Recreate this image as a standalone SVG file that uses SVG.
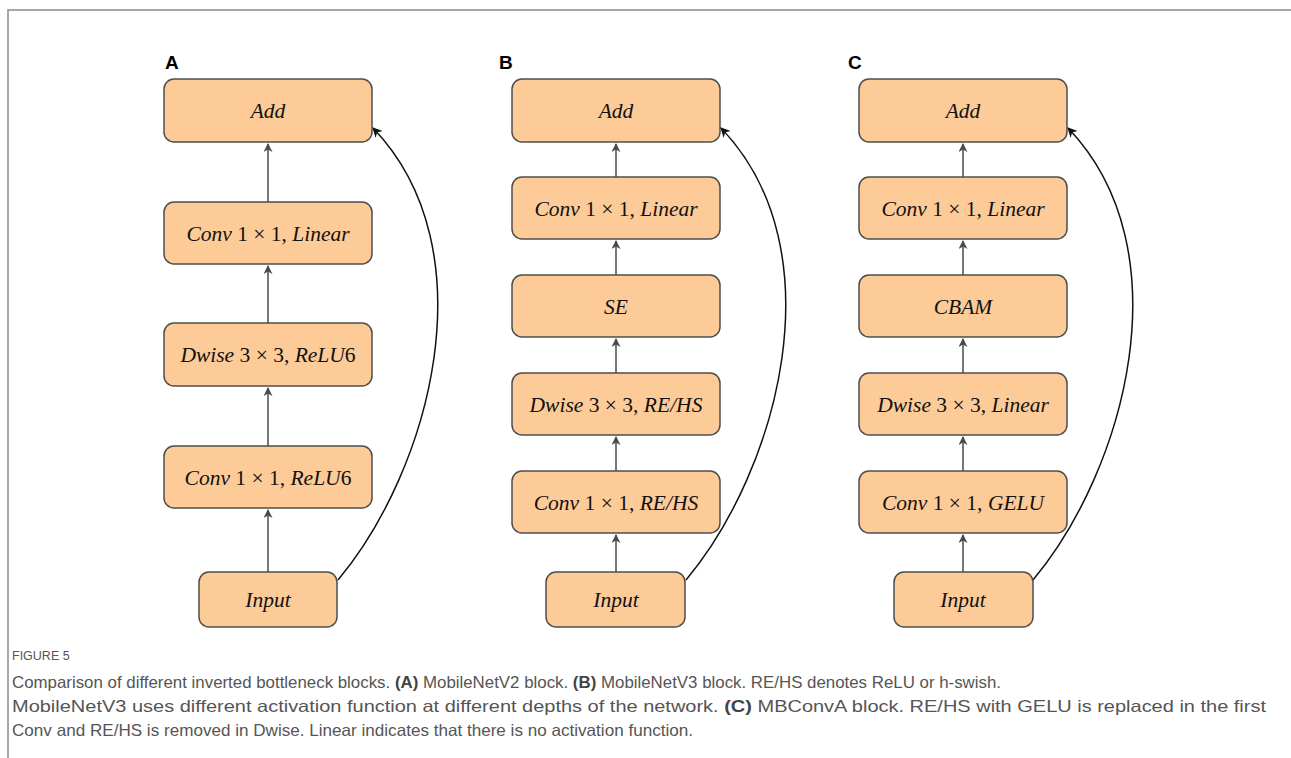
<svg xmlns="http://www.w3.org/2000/svg" width="1291" height="758" viewBox="0 0 1291 758">
<style>
.box{fill:#FDCB98;stroke:#4d4d4d;stroke-width:1.5}
.lbl{font-family:"Liberation Serif",serif;font-style:italic;font-size:21.5px;fill:#111;text-anchor:middle}
.up{font-style:normal}
.pl{font-family:"Liberation Sans",Arial,sans-serif;font-weight:bold;font-size:19px;fill:#000}
.ar{stroke:#4a4a4a;stroke-width:1.5;fill:none;marker-end:url(#ah)}
.sk{stroke:#111;stroke-width:1.5;fill:none;marker-end:url(#ah2)}
.cap{font-family:"Liberation Sans",Arial,sans-serif;font-size:16.5px;fill:#555}
.capb{font-weight:bold;fill:#444}
</style>
<defs>
<marker id="ah" viewBox="0 0 10 10" refX="9" refY="5" markerWidth="9" markerHeight="9" markerUnits="userSpaceOnUse" orient="auto"><path d="M0,0 L10,5 L0,10 L3,5 Z" fill="#4a4a4a"/></marker>
<marker id="ah2" viewBox="0 0 10 10" refX="9" refY="5" markerWidth="10" markerHeight="10" markerUnits="userSpaceOnUse" orient="auto"><path d="M0,0 L10,5 L0,10 L3,5 Z" fill="#111"/></marker>
</defs>
<rect width="1291" height="758" fill="#fff"/>
<path d="M8,758 V10 H1291" fill="none" stroke="#8a8a8a" stroke-width="1.5"/>

<text class="pl" x="165" y="69">A</text>
<text class="pl" x="499" y="69">B</text>
<text class="pl" x="848" y="69">C</text>

<g id="connectors">
<line class="ar" x1="268" y1="202" x2="268" y2="144"/>
<line class="ar" x1="268" y1="323" x2="268" y2="266"/>
<line class="ar" x1="268" y1="446" x2="268" y2="388"/>
<line class="ar" x1="268" y1="572" x2="268" y2="510"/>
<path class="sk" d="M338,580 C430,470 490,250 373,128"/>

<line class="ar" x1="616" y1="177" x2="616" y2="144"/>
<line class="ar" x1="616" y1="275" x2="616" y2="241"/>
<line class="ar" x1="616" y1="373" x2="616" y2="339"/>
<line class="ar" x1="616" y1="471" x2="616" y2="437"/>
<line class="ar" x1="616" y1="572" x2="616" y2="535"/>
<path class="sk" d="M686,580 C778,470 838,250 721,128"/>

<line class="ar" x1="963" y1="177" x2="963" y2="144"/>
<line class="ar" x1="963" y1="275" x2="963" y2="241"/>
<line class="ar" x1="963" y1="373" x2="963" y2="339"/>
<line class="ar" x1="963" y1="471" x2="963" y2="437"/>
<line class="ar" x1="963" y1="572" x2="963" y2="535"/>
<path class="sk" d="M1033,580 C1125,470 1185,250 1068,128"/>
</g>

<g id="A_add"><rect class="box" x="164" y="79" width="208" height="63" rx="10"/><text class="lbl" x="268" y="118">Add</text></g>
<g id="A_conv2"><rect class="box" x="164" y="202" width="208" height="62" rx="10"/><text class="lbl" x="268" y="241">Conv <tspan class="up">1 × 1,</tspan> Linear</text></g>
<g id="A_dw"><rect class="box" x="164" y="323" width="208" height="63" rx="10"/><text class="lbl" x="268" y="362">Dwise <tspan class="up">3 × 3,</tspan> ReLU<tspan class="up">6</tspan></text></g>
<g id="A_conv1"><rect class="box" x="164" y="446" width="208" height="62" rx="10"/><text class="lbl" x="268" y="485">Conv <tspan class="up">1 × 1,</tspan> ReLU<tspan class="up">6</tspan></text></g>
<g id="A_in"><rect class="box" x="199" y="572" width="138" height="55" rx="10"/><text class="lbl" x="268" y="607">Input</text></g>

<g id="B_add"><rect class="box" x="512" y="79" width="208" height="63" rx="10"/><text class="lbl" x="616" y="118">Add</text></g>
<g id="B_conv2"><rect class="box" x="512" y="177" width="208" height="62" rx="10"/><text class="lbl" x="616" y="216">Conv <tspan class="up">1 × 1,</tspan> Linear</text></g>
<g id="B_se"><rect class="box" x="512" y="275" width="208" height="62" rx="10"/><text class="lbl" x="616" y="314">SE</text></g>
<g id="B_dw"><rect class="box" x="512" y="373" width="208" height="62" rx="10"/><text class="lbl" x="616" y="412">Dwise <tspan class="up">3 × 3,</tspan> RE/HS</text></g>
<g id="B_conv1"><rect class="box" x="512" y="471" width="208" height="62" rx="10"/><text class="lbl" x="616" y="510">Conv <tspan class="up">1 × 1,</tspan> RE/HS</text></g>
<g id="B_in"><rect class="box" x="546" y="572" width="139" height="55" rx="10"/><text class="lbl" x="616" y="607">Input</text></g>

<g id="C_add"><rect class="box" x="859" y="79" width="208" height="63" rx="10"/><text class="lbl" x="963" y="118">Add</text></g>
<g id="C_conv2"><rect class="box" x="859" y="177" width="208" height="62" rx="10"/><text class="lbl" x="963" y="216">Conv <tspan class="up">1 × 1,</tspan> Linear</text></g>
<g id="C_cbam"><rect class="box" x="859" y="275" width="208" height="62" rx="10"/><text class="lbl" x="963" y="314">CBAM</text></g>
<g id="C_dw"><rect class="box" x="859" y="373" width="208" height="62" rx="10"/><text class="lbl" x="963" y="412">Dwise <tspan class="up">3 × 3,</tspan> Linear</text></g>
<g id="C_conv1"><rect class="box" x="859" y="471" width="208" height="62" rx="10"/><text class="lbl" x="963" y="510">Conv <tspan class="up">1 × 1,</tspan> GELU</text></g>
<g id="C_in"><rect class="box" x="894" y="572" width="139" height="55" rx="10"/><text class="lbl" x="963" y="607">Input</text></g>

<g id="caption">
<text class="cap" x="12" y="660" style="font-size:12.5px">FIGURE 5</text>
<text class="cap" x="12" y="688" textLength="989" lengthAdjust="spacingAndGlyphs">Comparison of different inverted bottleneck blocks. <tspan class="capb">(A)</tspan> MobileNetV2 block. <tspan class="capb">(B)</tspan> MobileNetV3 block. RE/HS denotes ReLU or h-swish.</text>
<text class="cap" x="12" y="712" textLength="1254" lengthAdjust="spacingAndGlyphs">MobileNetV3 uses different activation function at different depths of the network. <tspan class="capb">(C)</tspan> MBConvA block. RE/HS with GELU is replaced in the first</text>
<text class="cap" x="12" y="736" textLength="681" lengthAdjust="spacingAndGlyphs">Conv and RE/HS is removed in Dwise. Linear indicates that there is no activation function.</text>
</g>
</svg>
